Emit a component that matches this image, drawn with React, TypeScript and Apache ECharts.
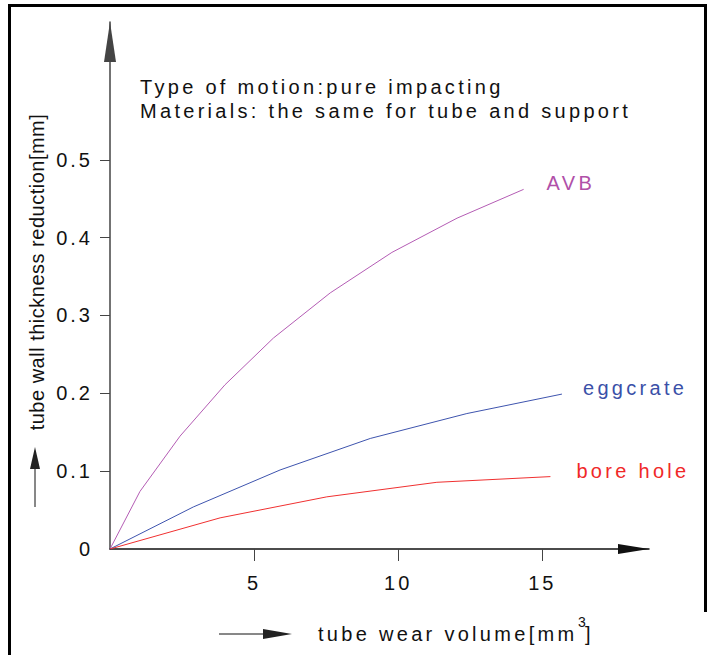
import React, { useEffect, useRef } from "react";
import * as echarts from "echarts";

// ---- data ----
const seriesNames = ["AVB", "eggcrate", "bore hole"];
const avbX = [0, 1.04, 2.43, 3.99, 5.67, 7.64, 9.78, 12.04, 14.35];
const avbY = [0, 0.074, 0.145, 0.211, 0.271, 0.329, 0.381, 0.425, 0.462];
const eggX = [0, 2.89, 5.9, 9.03, 12.38, 15.68];
const eggY = [0, 0.054, 0.1015, 0.142, 0.174, 0.199];
const boreX = [0, 3.82, 7.52, 11.34, 15.28];
const boreY = [0, 0.04, 0.067, 0.0857, 0.093];
const xTicks = [5, 10, 15];
const yTickLabels = [0, 0.1, 0.2, 0.3, 0.4, 0.5];
const yTicks = [0.1, 0.2, 0.3, 0.4, 0.5];
const annotationLines = ["Type of motion:pure impacting", "Materials: the same for tube and support"];
const yTitle = "tube wall thickness reduction[mm]";
const xTitle = "tube wear volume[mm";
const xTitleSup = "3";
const xTitleEnd = "]";

const FONT = "'Liberation Sans', Arial, sans-serif";
const lineColors = ["#b45cb4", "#3e54ae", "#f03030"];
const labelColors = ["#b050a8", "#3a50a8", "#f02828"];

const zip = (xs: number[], ys: number[]) => xs.map((x, i) => [x, ys[i]]);

export default function App() {
  const ref = useRef<HTMLDivElement>(null);
  useEffect(() => {
    if (!ref.current) return;
    const chart = echarts.init(ref.current, null, { renderer: "svg" });
    const datasets = [zip(avbX, avbY), zip(eggX, eggY), zip(boreX, boreY)];
    chart.setOption({
      animation: false,
      backgroundColor: "#fff",
      textStyle: { fontFamily: FONT },
      grid: { left: 110, top: 22, right: 63, bottom: 106, containLabel: false, outerBoundsMode: "none" },
      xAxis: {
        type: "value",
        min: 0,
        max: 18.7,
        axisLine: {
          show: true,
          onZero: false,
          lineStyle: { color: "#111", width: 1.5 },
          symbol: ["none", "triangle"],
          symbolSize: [10, 31],
          symbolOffset: [0, -15.5],
        },
        axisTick: { show: true, length: 12, customValues: xTicks, lineStyle: { color: "#444", width: 1 } },
        axisLabel: { customValues: xTicks, margin: 24, fontSize: 20, color: "#111", fontFamily: FONT },
        splitLine: { show: false },
      },
      yAxis: {
        type: "value",
        min: 0,
        max: 0.677,
        axisLine: {
          show: true,
          onZero: false,
          lineStyle: { color: "#444", width: 1.5 },
          symbol: ["none", "triangle"],
          symbolSize: [12, 40],
          symbolOffset: [0, -20],
        },
        axisTick: { show: true, length: 10, customValues: yTicks, lineStyle: { color: "#444", width: 1 } },
        axisLabel: {
          customValues: yTickLabels,
          margin: 17,
          fontSize: 20,
          color: "#111",
          fontFamily: FONT,
          formatter: (v: number) => (v === 0 ? "0" : v.toFixed(1)),
        },
        splitLine: { show: false },
      },
      series: seriesNames.map((name, i) => ({
        name,
        type: "line",
        data: datasets[i],
        symbol: "none",
        lineStyle: { color: lineColors[i], width: 1 },
        itemStyle: { color: lineColors[i] },
        endLabel: {
          show: true,
          formatter: name,
          color: labelColors[i],
          fontSize: 20,
          fontFamily: FONT,
          distance: [23, 21, 26][i],
          offset: [0, -6],
        },
      })),
      graphic: [
        { type: "line", shape: { x1: 9.5, y1: 4, x2: 9.5, y2: 655 }, style: { stroke: "#000", lineWidth: 3 } },
        { type: "line", shape: { x1: 8, y1: 5.5, x2: 707, y2: 5.5 }, style: { stroke: "#000", lineWidth: 3 } },
        { type: "line", shape: { x1: 705.5, y1: 4, x2: 705.5, y2: 612 }, style: { stroke: "#000", lineWidth: 3 } },
        ...annotationLines.map((t, i) => ({
          type: "text",
          x: 140,
          y: 87 + i * 24,
          style: { text: t, font: `20px ${FONT}`, fill: "#111", verticalAlign: "middle", align: "left" },
        })),
        {
          type: "text",
          x: 37,
          y: 272,
          rotation: Math.PI / 2,
          style: { text: yTitle, font: `20px ${FONT}`, fill: "#111", align: "center", verticalAlign: "middle" },
        },
        { type: "line", shape: { x1: 35, y1: 507, x2: 35, y2: 466 }, style: { stroke: "#111", lineWidth: 1 } },
        { type: "polygon", shape: { points: [[35, 447], [30, 469], [40, 469]] }, style: { fill: "#222" } },
        { type: "line", shape: { x1: 219, y1: 634, x2: 266, y2: 634 }, style: { stroke: "#111", lineWidth: 1 } },
        { type: "polygon", shape: { points: [[292, 634], [263, 629], [263, 639]] }, style: { fill: "#222" } },
        {
          type: "text",
          x: 318,
          y: 634,
          style: { text: xTitle, font: `20px ${FONT}`, fill: "#111", verticalAlign: "middle", align: "left" },
        },
        {
          type: "text",
          x: 578,
          y: 622,
          style: { text: xTitleSup, font: `14px ${FONT}`, fill: "#111", verticalAlign: "middle", align: "left" },
        },
        {
          type: "text",
          x: 585,
          y: 634,
          style: { text: xTitleEnd, font: `20px ${FONT}`, fill: "#111", verticalAlign: "middle", align: "left" },
        },
      ],
    });

    const spacingFor = (t: string) => {
      if (t === yTitle) return "0.5";
      if (t === xTitleSup || t === xTitleEnd) return "0";
      if (/^[0-9.]+$/.test(t)) return "3";
      return "3.3";
    };
    const applySpacing = () => {
      if (!ref.current) return;
      ref.current.querySelectorAll("text").forEach((el) => {
        el.setAttribute("letter-spacing", spacingFor((el.textContent || "").trim()));
      });
    };
    applySpacing();
    chart.on("finished", applySpacing);
    const timer = setTimeout(applySpacing, 50);
    return () => {
      clearTimeout(timer);
      chart.dispose();
    };
  }, []);
  return <div ref={ref} style={{ position: "fixed", left: 0, top: 0, width: 712, height: 655 }} />;
}
